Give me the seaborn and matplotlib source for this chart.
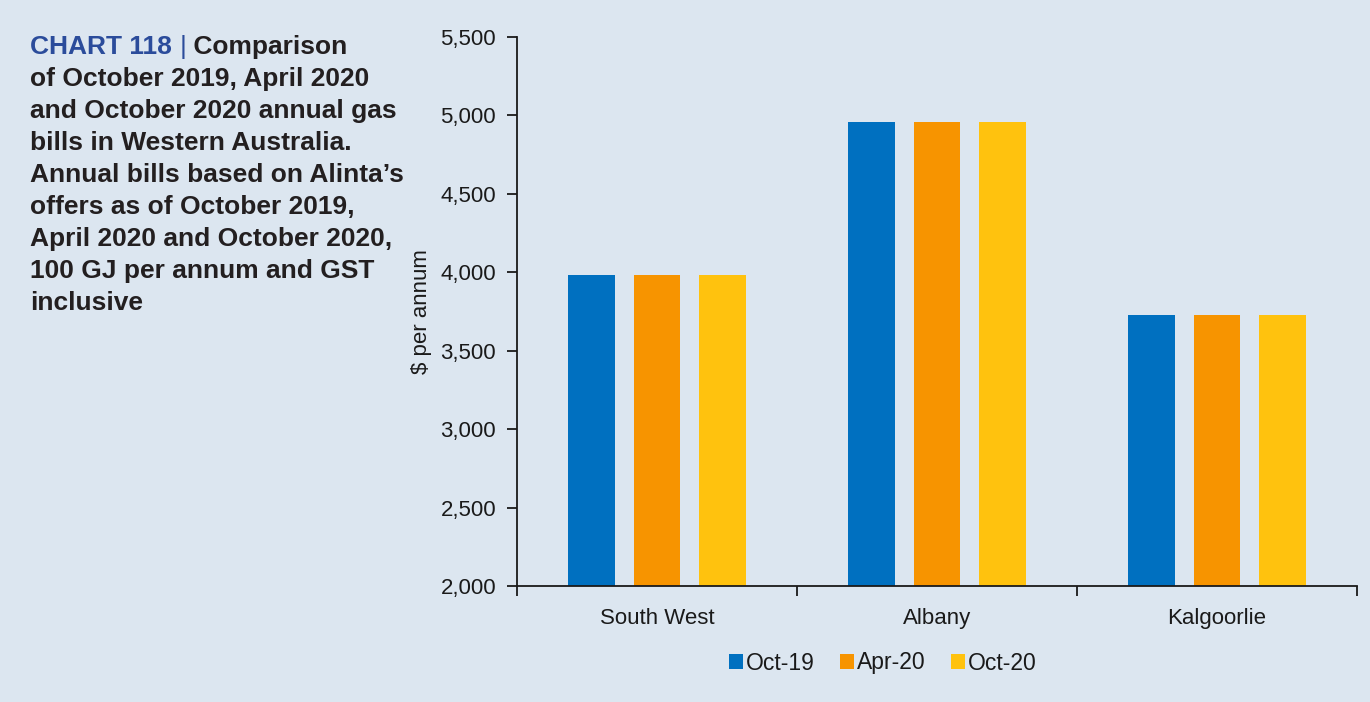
import matplotlib
matplotlib.use("Agg")
import matplotlib.pyplot as plt
from matplotlib.ticker import FuncFormatter, FixedLocator
import seaborn as sns
import pandas as pd

# Annual gas bills ($ per annum), 100 GJ, GST inclusive
regions = ["South West", "Albany", "Kalgoorlie"]
periods = ["Oct-19", "Apr-20", "Oct-20"]
oct19 = [3980, 4960, 3730]
apr20 = [3980, 4960, 3730]
oct20 = [3980, 4960, 3730]
yticks = [2000, 2500, 3000, 3500, 4000, 4500, 5000, 5500]

colors = ["#0070C0", "#F79400", "#FFC20E"]
bg = "#DCE6F0"
ink = "#1a1a1a"

rows = []
for period, vals in zip(periods, [oct19, apr20, oct20]):
    for region, v in zip(regions, vals):
        rows.append({"Region": region, "Period": period, "Bill": v})
df = pd.DataFrame(rows)

sns.set_theme(style="white")
plt.rcParams["font.family"] = ["Liberation Sans", "DejaVu Sans"]

fig = plt.figure(figsize=(13.7, 7.02), dpi=100, facecolor=bg)
ax = fig.add_axes([517 / 1370, 1 - 586 / 702, 840 / 1370, 549 / 702])
ax.set_facecolor(bg)

sns.barplot(data=df, x="Region", y="Bill", hue="Period", order=regions,
            hue_order=periods, palette=colors, width=0.7, gap=0.29,
            saturation=1, linewidth=0, ax=ax, legend=True)

ax.set_ylim(2000, 5500)
ax.set_xlim(-0.5, 2.5)
ax.yaxis.set_major_locator(FixedLocator(yticks))
ax.yaxis.set_major_formatter(FuncFormatter(lambda v, p: f"{int(v):,}"))
ax.xaxis.set_major_locator(FixedLocator([-0.5, 0.5, 1.5, 2.5]))
ax.xaxis.set_ticklabels([])
ax.xaxis.set_minor_locator(FixedLocator([0, 1, 2]))
ax.xaxis.set_minor_formatter(FuncFormatter(lambda v, p: regions[int(round(v))]))

for side in ["top", "right"]:
    ax.spines[side].set_visible(False)
for side in ["left", "bottom"]:
    ax.spines[side].set_color(ink)
    ax.spines[side].set_linewidth(1.3)

ax.tick_params(axis="y", which="major", direction="out", length=7, width=1.3,
               color=ink, labelsize=16, labelcolor=ink, pad=8, left=True)
ax.tick_params(axis="x", which="major", direction="out", length=7, width=1.3,
               color=ink, bottom=True)
ax.tick_params(axis="x", which="minor", length=0, labelsize=16,
               labelcolor=ink, pad=16)

ax.set_xlabel("")
ax.set_ylabel("$ per annum", fontsize=16, color=ink, labelpad=6)

leg = ax.legend(loc="center", bbox_to_anchor=(883 / 1370, 1 - 663 / 702),
                bbox_transform=fig.transFigure, ncol=3, frameon=False,
                fontsize=16.5, handlelength=0.6, handleheight=0.6,
                handletextpad=0.15, columnspacing=1.1)
for t in leg.get_texts():
    t.set_color(ink)

# Title block
title_blue = "#2B4C9B"
title_dark = "#231F20"
fs = 19
x0 = 30 / 1370
line_y = [47 + 32 * i for i in range(9)]
fig.canvas.draw()
renderer = fig.canvas.get_renderer()

t1 = fig.text(x0, 1 - line_y[0] / 702, "CHART 118 ", color=title_blue,
              fontsize=fs, fontweight="bold", va="center", ha="left")
bb = t1.get_window_extent(renderer)
t2 = fig.text(bb.x1 / 1370, 1 - line_y[0] / 702, "|", color=title_blue,
              fontsize=fs, fontweight="normal", va="center", ha="left")
bb2 = t2.get_window_extent(renderer)
fig.text(bb2.x1 / 1370, 1 - line_y[0] / 702, " Comparison", color=title_dark,
         fontsize=fs, fontweight="bold", va="center", ha="left")

lines = [
    "of October 2019, April 2020",
    "and October 2020 annual gas",
    "bills in Western Australia.",
    "Annual bills based on Alinta\u2019s",
    "offers as of October 2019,",
    "April 2020 and October 2020,",
    "100 GJ per annum and GST",
    "inclusive",
]
for i, txt in enumerate(lines):
    fig.text(x0, 1 - line_y[i + 1] / 702, txt, color=title_dark, fontsize=fs,
             fontweight="bold", va="center", ha="left")

fig.savefig("out.png", dpi=100, facecolor=bg)
